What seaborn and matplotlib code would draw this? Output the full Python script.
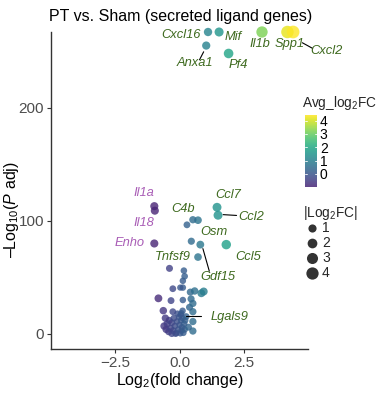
import numpy as np
import pandas as pd
import matplotlib
matplotlib.use("Agg")
import matplotlib.pyplot as plt
import seaborn as sns
from matplotlib import colors as mcolors

# ---------------- data ----------------
labeled_genes = ["Cxcl16", "Mif", "Il1b", "Spp1", "Cxcl2", "Anxa1", "Pf4",
                 "Il1a", "Il18", "Ccl7", "Ccl2", "C4b", "Enho", "Osm",
                 "Gdf15", "Ccl5", "Tnfsf9", "Lgals9"]
labeled_fc = [1.11, 1.54, 3.21, 4.20, 4.42, 1.04, 1.91,
              -0.98, -0.96, 1.46, 1.50, 0.52, -0.98, 0.46,
              0.81, 1.82, 0.72, 0.26]
labeled_p = [267, 267, 267, 267, 267, 255, 248,
             113, 109, 112, 105, 101, 80, 82,
             79, 79, 68, 15.4]

other_fc = [0.72, 0.29, -0.39, 0.17, 0.20, 0.13, -0.26, 0.03, 0.13, 0.42,
            0.59, 0.94, 0.85, -0.82, -0.33, 0.13, 0.52, 0.39, -0.63, -0.26,
            0.07, 0.52, 0.45,
            -0.55, -0.48, -0.40, -0.35, -0.30, -0.25, -0.22, -0.18, -0.12,
            -0.10, -0.05, -0.02, 0.00, 0.03, 0.06, 0.08, 0.10, 0.12, 0.15,
            0.18, 0.20, -0.42, -0.30, -0.15, 0.22, -0.60, 0.05, -0.08, 0.52,
            0.52, -0.52, 0.35, 0.12]
other_p = [100.6, 96.5, 58, 56, 51, 47, 40, 41, 41, 37,
           38, 37.5, 36, 31.5, 29.5, 30, 27, 23.6, 20.6, 19.7,
           18.3, 19.7, 31,
           14, 9, 12, 5, 10, 3, 14, 7, 1,
           11, 4, 15, 8, 0.5, 12, 3, 6, 14, 1,
           9, 4, 2, 0.3, 0.2, 12, 7, 17, 18, 11,
           2.6, 4, 6, 20.5]

negative_genes = ["Il1a", "Il18", "Enho"]

# label text positions (data coords) and optional leader lines
label_pos = {
    "Cxcl16": (0.07, 264), "Mif": (2.08, 263), "Il1b": (3.12, 256.5),
    "Spp1": (4.30, 256.5), "Cxcl2": (5.73, 250), "Anxa1": (0.59, 239.5),
    "Pf4": (2.28, 238), "Il1a": (-1.37, 124.5), "Il18": (-1.37, 98),
    "Enho": (-1.95, 80), "C4b": (0.13, 110.6), "Ccl7": (1.89, 123),
    "Ccl2": (2.80, 103.3), "Osm": (1.34, 90.5), "Ccl5": (2.67, 68.4),
    "Tnfsf9": (-0.26, 68.4), "Gdf15": (1.50, 50.2), "Lgals9": (1.95, 15.3),
}
leader = {
    "Cxcl2": ((4.78, 257.5), (5.18, 252.5)),
    "Anxa1": ((0.94, 249.5), (0.78, 242.5)),
    "Ccl2": ((1.70, 105.5), (2.22, 104.8)),
    "Gdf15": ((0.91, 75.5), (1.16, 55.5)),
    "Lgals9": ((0.26, 16.0), (0.84, 16.0)),
}

df = pd.DataFrame({
    "gene": labeled_genes + [""] * len(other_fc),
    "fc": labeled_fc + other_fc,
    "p": labeled_p + other_p,
})
df["absfc"] = df["fc"].abs()

# ---------------- style ----------------
sns.set_theme(style="ticks")
plt.rcParams["font.family"] = ["Liberation Sans", "DejaVu Sans"]
plt.rcParams["mathtext.fontset"] = "custom"
plt.rcParams["mathtext.rm"] = "Liberation Sans"
plt.rcParams["mathtext.it"] = "Liberation Sans:italic"

fig = plt.figure(figsize=(3.8, 3.94), dpi=100)
ax = fig.add_axes([51 / 380, 1 - 349 / 394, 257 / 380, 317 / 394])

vmin, vmax = df["fc"].min(), df["fc"].max()
norm = mcolors.Normalize(vmin=vmin, vmax=vmax)
base = plt.get_cmap("viridis")
cmap = mcolors.ListedColormap(base(np.linspace(0.1, 1.0, 256)))

size_lo, size_hi = 20, 20 + 14.5 * 4.5
sns.scatterplot(data=df.sort_values("p"), x="fc", y="p", hue="fc", hue_norm=norm,
                palette=cmap, size="absfc", sizes=(size_lo, size_hi),
                size_norm=(0, 4.5), linewidth=0, alpha=0.8, legend=False,
                ax=ax, clip_on=False, zorder=3)

ax.set_xlim(-5, 5)
ax.set_ylim(-13.3, 267)
ax.set_xticks([-2.5, 0, 2.5])
ax.set_yticks([0, 100, 200])
ax.set_xticklabels(["\u22122.5", "0.0", "2.5"])
for s in ["top", "right"]:
    ax.spines[s].set_visible(False)
for s in ["left", "bottom"]:
    ax.spines[s].set_color("#333333")
    ax.spines[s].set_linewidth(1.0)
ax.tick_params(axis="both", colors="#333333", labelcolor="#4d4d4d",
               labelsize=11, length=3, width=0.8, pad=2)
ax.set_xlabel(r"Log$_2$(fold change)", fontsize=11.5, color="black", labelpad=1)
ax.set_ylabel("\u2013Log$_{10}$($\\mathit{P}$ adj)", fontsize=11.5, color="black")
ax.yaxis.set_label_coords((21 - 51) / 257, (349 - 210) / 317)
fig.text(49 / 380, 1 - 16 / 394, "PT vs. Sham (secreted ligand genes)",
         fontsize=11.5, ha="left", va="center", color="black")

green = "#3e6a1f"
pink = "#a95db6"
for g in labeled_genes:
    tx, ty = label_pos[g]
    ax.text(tx, ty, g, fontsize=9.3, style="italic",
            color=pink if g in negative_genes else green,
            ha="center", va="center", clip_on=False, zorder=5)
for g, ((x0, y0), (x1, y1)) in leader.items():
    ax.plot([x0, x1], [y0, y1], color="black", lw=0.8, clip_on=False, zorder=4)

# ---------------- colorbar legend ----------------
fig.text(302 / 380, 1 - 103 / 394, r"Avg_log$_2$FC", fontsize=9.8,
         ha="left", va="center")
cax = fig.add_axes([305 / 380, 1 - 187 / 394, 12 / 380, 72 / 394])
grad = np.linspace(vmin, vmax, 256).reshape(-1, 1)
cax.imshow(grad, aspect="auto", cmap=cmap, norm=norm, origin="lower",
           extent=[0, 1, vmin, vmax], alpha=0.85)
cax.set_xlim(0, 1)
cax.set_ylim(vmin, vmax)
cax.set_xticks([])
cax.yaxis.tick_right()
cax.set_yticks([0, 1, 2, 3, 4])
cax.tick_params(axis="y", length=0, labelsize=10, pad=2, labelcolor="black")
for t in [0, 1, 2, 3, 4]:
    cax.plot([0, 0.2], [t, t], color="white", lw=0.6)
    cax.plot([0.8, 1], [t, t], color="white", lw=0.6)
for s in cax.spines.values():
    s.set_visible(False)

# ---------------- size legend ----------------
lax = fig.add_axes([0, 0, 1, 1])
lax.set_xlim(0, 380)
lax.set_ylim(394, 0)
lax.axis("off")
fig.text(303 / 380, 1 - 213 / 394, r"|Log$_2$FC|", fontsize=9.8,
         ha="left", va="center")
size_vals = [1, 2, 3, 4]
size_y = [228, 243, 258, 273]
for v, yy in zip(size_vals, size_y):
    s = size_lo + (size_hi - size_lo) * v / 4.5
    lax.scatter([312], [yy], s=s, color="#333333", linewidth=0)
    lax.text(322, yy, str(v), fontsize=10, ha="left", va="center")

fig.savefig("out.png", dpi=100)
